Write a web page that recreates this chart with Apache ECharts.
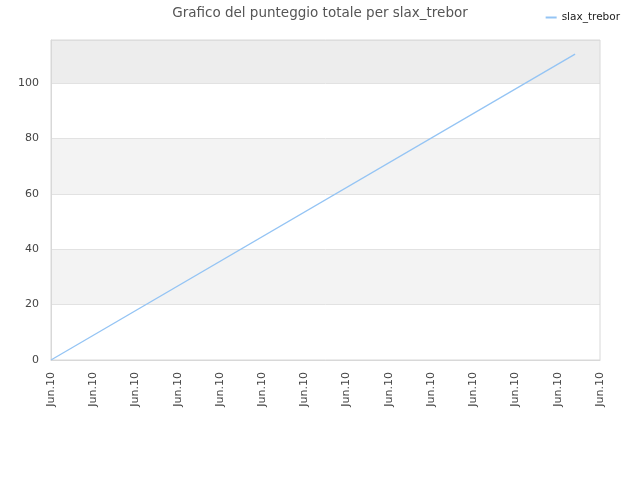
<!DOCTYPE html>
<html>
<head>
    <meta charset="utf-8">
    <title>Grafico del punteggio totale per slax_trebor</title>
    <script src="https://cdn.jsdelivr.net/npm/echarts@6/dist/echarts.min.js"></script>
</head>
<body style="margin:0">
    <div id="main" style="width:640px;height:480px;"></div>
    <script type="text/javascript">
        // dati
        var xTicks = ['Jun.10','Jun.10','Jun.10','Jun.10','Jun.10','Jun.10','Jun.10',
                      'Jun.10','Jun.10','Jun.10','Jun.10','Jun.10','Jun.10','Jun.10'];
        var xPos = [0, 12.41];
        var punteggio = [0, 110.5];

        var myChart = echarts.init(document.getElementById('main'));

        var option = {
            animation: false,
            title: {
                text: 'Grafico del punteggio totale per slax_trebor',
                left: 'center',
                top: 1,
                textStyle: { fontFamily: 'DejaVu Sans', fontSize: 13.5, fontWeight: 'normal', color: '#555' }
            },
            legend: {
                right: 15,
                top: 7,
                icon: 'rect',
                itemWidth: 11,
                itemHeight: 2,
                itemGap: 6,
                textStyle: { fontFamily: 'DejaVu Sans', fontSize: 10.5, color: '#222' },
                data: ['slax_trebor']
            },
            grid: { left: 51, right: 40, top: 40, bottom: 120 },
            xAxis: {
                type: 'value',
                min: 0,
                max: 13,
                interval: 1,
                axisLine: { show: true, lineStyle: { color: '#d8d8d8' } },
                axisTick: { show: false },
                splitLine: { show: false },
                axisLabel: {
                    rotate: 90,
                    margin: 12,
                    fontFamily: 'DejaVu Sans',
                    fontSize: 11,
                    color: '#444',
                    formatter: function (v) { return xTicks[Math.round(v)]; }
                }
            },
            yAxis: {
                type: 'value',
                min: 0,
                max: 115.6,
                interval: 20,
                axisLine: { show: true, lineStyle: { color: '#d8d8d8' } },
                axisTick: { show: false },
                axisLabel: {
                    showMaxLabel: false,
                    margin: 12,
                    fontFamily: 'DejaVu Sans',
                    fontSize: 11,
                    color: '#444'
                },
                splitLine: { show: true, lineStyle: { color: '#e2e2e2' } },
                splitArea: {
                    show: true,
                    areaStyle: { color: ['#ffffff', '#f3f3f3', '#ffffff', '#f3f3f3', '#ffffff', '#ededed'] }
                }
            },
            series: [{
                name: 'slax_trebor',
                type: 'line',
                symbol: 'none',
                lineStyle: { width: 1.3, color: '#94c4f4' },
                itemStyle: { color: '#94c4f4' },
                data: xPos.map(function (x, i) { return [x, punteggio[i]]; })
            }]
        };
        myChart.setOption(option);
        // bordo del riquadro
        var r = myChart.getModel().getComponent('grid').coordinateSystem.getRect();
        myChart.setOption({
            graphic: [{
                type: 'rect',
                silent: true,
                shape: { x: r.x, y: r.y, width: r.width, height: r.height },
                style: { fill: null, stroke: '#d8d8d8', lineWidth: 1 }
            }]
        });
    </script>
</body>
</html>
